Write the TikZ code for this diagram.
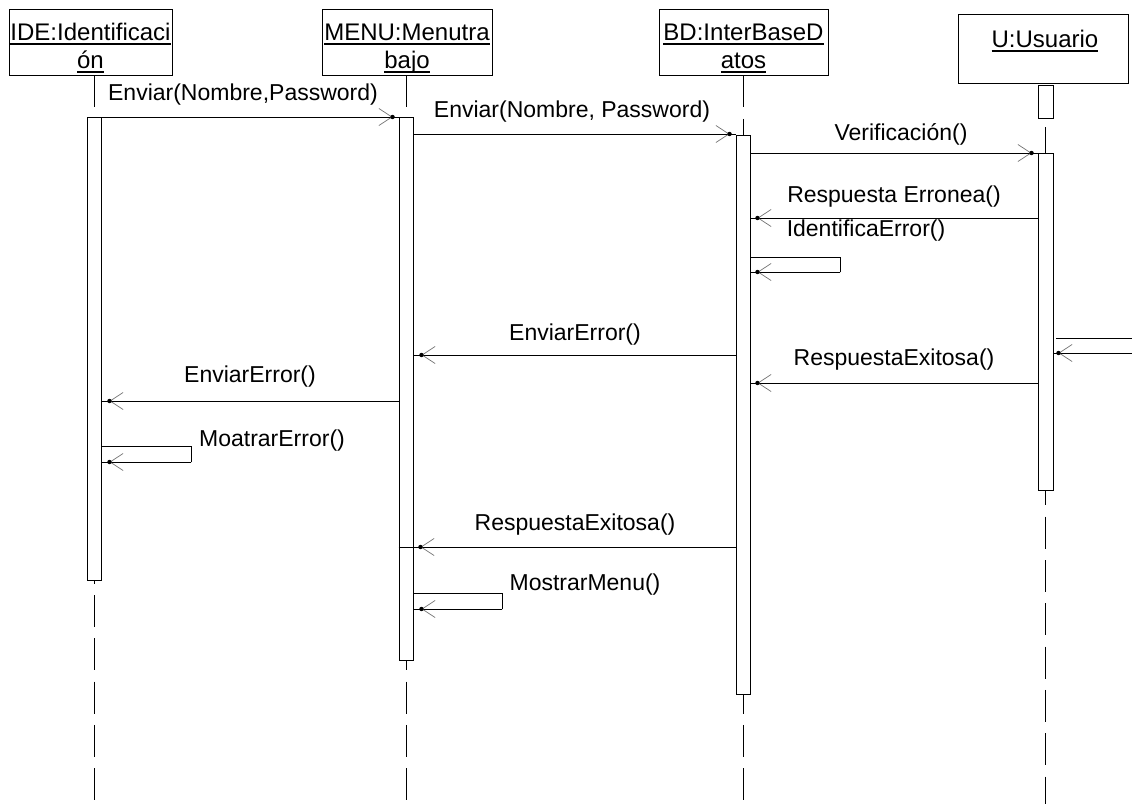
\documentclass[tikz,border=0pt]{standalone}
\usepackage{fontspec}
\setmainfont{Liberation Sans}
\usetikzlibrary{arrows.meta,calc}
\newcommand{\ulx}[1]{\setbox0\hbox{#1}\rlap{\vrule width\wd0 height -3.2pt depth 4.7pt}\box0}
\begin{document}
\begin{tikzpicture}[x=1pt,y=-1pt,
  objbox/.style={draw=black,line width=0.9pt,fill=white,inner sep=0pt,minimum height=66pt},
  hdr/.style={font=\fontsize{24}{28}\selectfont,anchor=base,inner sep=0pt},
  lifeline/.style={line width=1pt,dash pattern=on 32pt off 11.3pt},
  actbar/.style={draw=black,line width=0.9pt,fill=white,inner sep=0pt,minimum width=14pt,anchor=north},
  plain/.style={line width=1pt},
  barb/.style={line width=1pt,-{Straight Barb[length=13pt,width=17pt,line width=0.7pt,color=black!55]}},
  lbl/.style={font=\fontsize{23}{27}\selectfont,anchor=base,inner sep=0pt}
]
\newcommand{\sendmsg}[3]{%
  \draw[plain] (#1) -- (#2);
  \draw[barb] (#1) -- ($(#2)+(#3,0)$);
  \fill ($(#2)+(#3,0)$) circle (2.2pt);}
\useasboundingbox (0,0) rectangle (1132,804);
\coordinate (bottom) at (0,804);
\coordinate (ustart) at (0,127);

% object boxes
\node[objbox,minimum width=163pt] (ide) at (90.5,42) {};
\node[objbox,minimum width=170pt] (menu) at (407,42) {};
\node[objbox,minimum width=169pt] (bd) at (743.5,42) {};
\node[objbox,minimum width=170pt,minimum height=69pt] (u) at (1043,48.5) {};

\node[hdr] (ideT1) at (90.5,40) {\ulx{IDE:Identificaci}};
\node[hdr] (ideT2) at (90.5,68) {\ulx{ón}};
\node[hdr] (menuT1) at (407,40) {\ulx{MENU:Menutra}};
\node[hdr] (menuT2) at (407,68) {\ulx{bajo}};
\node[hdr] (bdT1) at (743.5,40) {\ulx{BD:InterBaseD}};
\node[hdr] (bdT2) at (743.5,68) {\ulx{atos}};
\node[hdr] (uT1) at (1045,47) {\ulx{U:Usuario}};

% activation bars (positions only, drawn after lifelines)
\path (94,117) coordinate (ideX) (406,117) coordinate (menuX) (743,135) coordinate (bdX) (1045.5,153) coordinate (uX);

% lifelines
\draw[lifeline] (ideX |- ide.south) -- (ideX |- bottom);
\draw[lifeline] (menuX |- menu.south) -- (menuX |- bottom);
\draw[lifeline] (bdX |- bd.south) -- (bdX |- bottom);
\draw[lifeline] (uX |- ustart) -- (uX |- bottom);

\node[actbar,minimum height=463pt] (ideBar) at (ideX) {};
\node[actbar,minimum height=543pt] (menuBar) at (menuX) {};
\node[actbar,minimum height=559pt] (bdBar) at (bdX) {};
\node[actbar,minimum width=15pt,minimum height=33pt] (uTop) at (1045.5,85) {};
\node[actbar,minimum width=15pt,minimum height=337pt] (uBar) at (uX) {};

% message levels
\coordinate (y1) at (0,117);
\coordinate (y2) at (0,134);
\coordinate (y3) at (0,153);
\coordinate (y4) at (0,218);
\coordinate (y5a) at (0,257);
\coordinate (y5b) at (0,272);
\coordinate (yU1) at (0,338);
\coordinate (yU2) at (0,353);
\coordinate (y6) at (0,355);
\coordinate (y7) at (0,383);
\coordinate (y8) at (0,401);
\coordinate (y9a) at (0,446);
\coordinate (y9b) at (0,462);
\coordinate (y10) at (0,547);
\coordinate (y11a) at (0,593);
\coordinate (y11b) at (0,609);
\coordinate (edgeU1) at (1132,338);
\coordinate (edgeU2) at (1132,353);

% messages
\sendmsg{ideBar.east |- y1}{menuBar.west |- y1}{-6}
\node[lbl] (l1) at (243,100) {Enviar(Nombre,Password)};

\sendmsg{menuBar.east |- y2}{bdBar.west |- y2}{-6}
\node[lbl] (l2) at (572,117) {Enviar(Nombre, Password)};

\sendmsg{bdBar.east |- y3}{uBar.west |- y3}{-6}
\node[lbl] (l3) at (901,140) {Verificación()};

\sendmsg{uBar.west |- y4}{bdBar.east |- y4}{7}
\node[lbl] (l4) at (894,202) {Respuesta Erronea()};

\draw[plain] (bdBar.east |- y5a) -- ($(bdBar.east |- y5a)+(90,0)$) -- ($(bdBar.east |- y5b)+(90,0)$);
\sendmsg{$(bdBar.east |- y5b)+(90,0)$}{bdBar.east |- y5b}{7}
\node[lbl] (l5) at (866,236) {IdentificaError()};

\draw[plain] ($(uBar.east |- yU1)+(3,0)$) -- (edgeU1);
\sendmsg{edgeU2}{uBar.east |- yU2}{5}

\sendmsg{bdBar.west |- y6}{menuBar.east |- y6}{8}
\node[lbl] (l6) at (575,340) {EnviarError()};

\sendmsg{uBar.west |- y7}{bdBar.east |- y7}{7}
\node[lbl] (l7) at (894,365) {RespuestaExitosa()};

\sendmsg{menuBar.west |- y8}{ideBar.east |- y8}{8}
\node[lbl] (l8) at (250,382) {EnviarError()};

\draw[plain] (ideBar.east |- y9a) -- ($(ideBar.east |- y9a)+(90,0)$) -- ($(ideBar.east |- y9b)+(90,0)$);
\sendmsg{$(ideBar.east |- y9b)+(90,0)$}{ideBar.east |- y9b}{8}
\node[lbl] (l9) at (272,446) {MoatrarError()};

\sendmsg{bdBar.west |- y10}{menuBar.east |- y10}{7}
\draw[plain] (menuBar.west |- y10) -- (menuBar.east |- y10);
\node[lbl] (l10) at (575,530) {RespuestaExitosa()};

\draw[plain] (menuBar.east |- y11a) -- ($(menuBar.east |- y11a)+(89,0)$) -- ($(menuBar.east |- y11b)+(89,0)$);
\sendmsg{$(menuBar.east |- y11b)+(89,0)$}{menuBar.east |- y11b}{8}
\node[lbl] (l11) at (585,590) {MostrarMenu()};
\end{tikzpicture}
\end{document}
